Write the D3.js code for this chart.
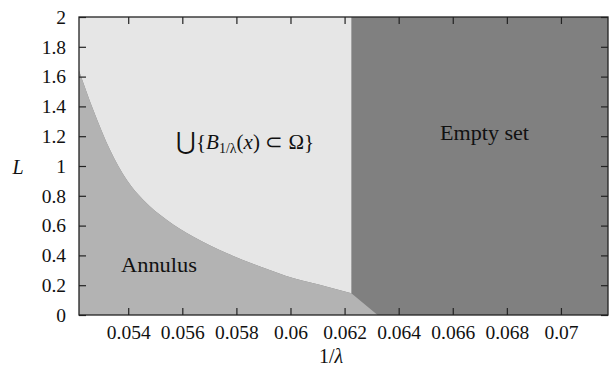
<!DOCTYPE html>
<html>
<head>
<meta charset="utf-8">
<script src="https://cdn.jsdelivr.net/npm/d3@7"></script>
<style>
  body { margin: 0; background: #fff; }
</style>
</head>
<body>
<svg id="chart" width="610" height="372"></svg>
<script>
// x = 1/lambda, y = L
const xDomain = [0.05218, 0.07174];
const yDomain = [0, 2];
const xTicks = [0.054, 0.056, 0.058, 0.06, 0.062, 0.064, 0.066, 0.068, 0.07];
const xTickLabels = ["0.054", "0.056", "0.058", "0.06", "0.062", "0.064", "0.066", "0.068", "0.07"];
const yTicks = [0, 0.2, 0.4, 0.6, 0.8, 1, 1.2, 1.4, 1.6, 1.8, 2];
const yTickLabels = ["0", "0.2", "0.4", "0.6", "0.8", "1", "1.2", "1.4", "1.6", "1.8", "2"];

// boundary between annulus and union of balls
const curveX = [0.05218, 0.05271, 0.05333, 0.05395, 0.05456, 0.05543, 0.05641, 0.05765, 0.0589, 0.06012, 0.06135, 0.06225];
const curveL = [1.64, 1.376, 1.107, 0.906, 0.772, 0.638, 0.526, 0.414, 0.324, 0.246, 0.190, 0.146];
const emptyStart = 0.06225;   // vertical edge of the empty set
const annulusEnd = 0.06322;   // where annulus meets L = 0

const FONT = "'Liberation Serif', 'Times New Roman', serif";

const margin = { left: 79, right: 2, top: 17, bottom: 57 };
const width = 610 - margin.left - margin.right;
const height = 372 - margin.top - margin.bottom;

const svg = d3.select("#chart");
const g = svg.append("g").attr("transform", `translate(${margin.left},${margin.top})`);

const x = d3.scaleLinear().domain(xDomain).range([0, width]);
const y = d3.scaleLinear().domain(yDomain).range([height, 0]);

const curve = curveX.map((v, i) => [v, curveL[i]]);
const smooth = d3.line().x(d => x(d[0])).y(d => y(d[1])).curve(d3.curveMonotoneX);
const pt = (a, b) => `L${x(a)},${y(b)}`;

// empty set fills everything, other regions drawn over it
g.append("rect")
  .attr("width", width).attr("height", height)
  .attr("fill", "#808080");

g.append("path")
  .attr("d", smooth(curve) + pt(emptyStart, yDomain[1]) + pt(xDomain[0], yDomain[1]) + "Z")
  .attr("fill", "#e6e6e6");

g.append("path")
  .attr("d", smooth(curve) + pt(annulusEnd, 0) + pt(xDomain[0], 0) + "Z")
  .attr("fill", "#b3b3b3");

// axes, ticks pointing inward
const tickLen = 7;
const styleAxis = a => {
  a.select(".domain").remove();
  a.selectAll(".tick line").attr("stroke", "#222").attr("stroke-width", 1.2);
  a.selectAll(".tick text").style("font-family", FONT).style("font-size", "19.5px").attr("fill", "#111");
};

g.append("g")
  .attr("transform", `translate(0,${height})`)
  .call(d3.axisBottom(x).tickValues(xTicks).tickFormat((d, i) => xTickLabels[i]).tickSize(-tickLen).tickPadding(10.5))
  .call(styleAxis);

g.append("g")
  .call(d3.axisTop(x).tickValues(xTicks).tickFormat("").tickSize(-tickLen))
  .call(styleAxis);

g.append("g")
  .call(d3.axisLeft(y).tickValues(yTicks).tickFormat((d, i) => yTickLabels[i]).tickSize(-tickLen).tickPadding(13))
  .call(styleAxis);

g.append("g")
  .attr("transform", `translate(${width},0)`)
  .call(d3.axisRight(y).tickValues(yTicks).tickFormat("").tickSize(-tickLen))
  .call(styleAxis);

g.append("rect")
  .attr("width", width).attr("height", height)
  .attr("fill", "none").attr("stroke", "#222").attr("stroke-width", 1.3);

const label = (px, py, size) => svg.append("text")
  .attr("x", px).attr("y", py)
  .attr("fill", "#111")
  .style("font-family", FONT).style("font-size", size + "px");

// axis titles
label(331, 363, 20).attr("text-anchor", "middle")
  .call(t => {
    t.append("tspan").text("1/");
    t.append("tspan").style("font-style", "italic").text("λ");
  });

label(18, 174, 20).attr("text-anchor", "middle")
  .style("font-style", "italic")
  .text("L");

// region labels
label(121, 272, 21)
  .attr("textLength", 76).attr("lengthAdjust", "spacingAndGlyphs")
  .text("Annulus");

label(440, 140, 21)
  .attr("textLength", 89).attr("lengthAdjust", "spacingAndGlyphs")
  .text("Empty set");

label(176, 149, 21)
  .call(t => {
    t.append("tspan").style("font-size", "24px").text("⋃");
    t.append("tspan").text("{");
    t.append("tspan").style("font-style", "italic").text("B");
    t.append("tspan").style("font-size", "14px").attr("dy", 4).text("1/λ");
    t.append("tspan").attr("dy", -4).text("(");
    t.append("tspan").style("font-style", "italic").text("x");
    t.append("tspan").text(") ⊂ Ω}");
  });
</script>
</body>
</html>
